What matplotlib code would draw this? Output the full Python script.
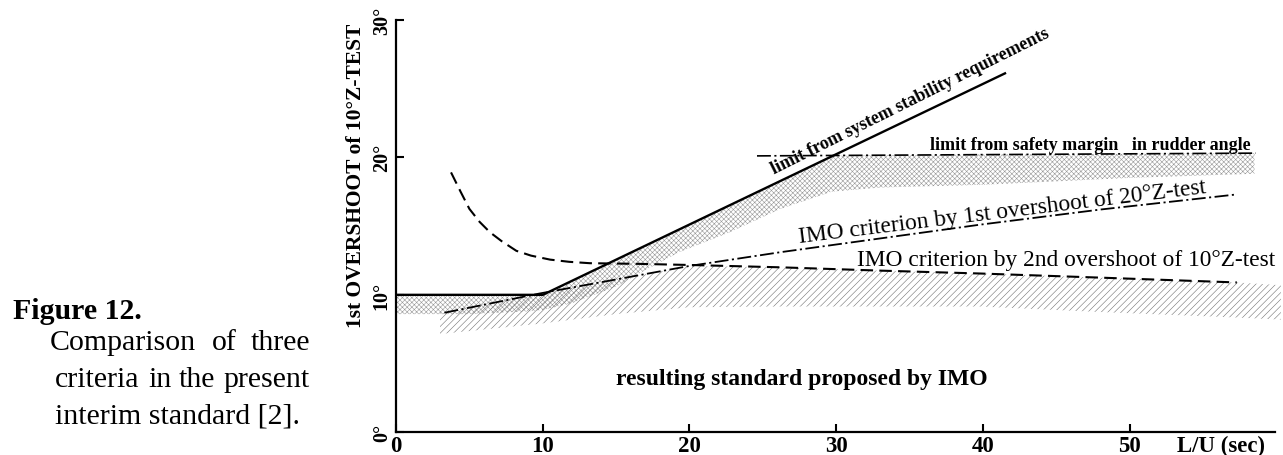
import matplotlib
matplotlib.use('Agg')
import matplotlib.pyplot as plt
import numpy as np

plt.rcParams['font.family'] = ['Liberation Serif', 'DejaVu Serif']
plt.rcParams['hatch.linewidth'] = 0.4
plt.rcParams['lines.scale_dashes'] = False

# ---------------- data ----------------
xticks = [0, 10, 20, 30, 40, 50]
yticks = [0, 10, 20, 30]
ytick_labels = ['0°', '10°', '20°', '30°']

# limit from system stability requirements (solid)
stab_x = [0, 10, 41.5]
stab_y = [10, 10, 26.1]

# limit from safety margin in rudder angle (dash-dot)
safety_x = [24.6, 58.6]
safety_y = [20.1, 20.3]

# IMO criterion by 1st overshoot of 20deg Z-test (dash-dot)
imo1_x = [3.3, 9.8, 20.0, 26.2, 33.0, 39.8, 48.0, 57.3]
imo1_y = [8.7, 10.1, 12.1, 13.1, 14.1, 15.1, 16.2, 17.3]

# IMO criterion by 2nd overshoot of 10deg Z-test (dashed)
imo2_x = [3.75, 4.4, 5.0, 5.7, 6.4, 7.2, 8.2, 9.2, 10.5, 11.8, 13.2, 16.6, 20.0, 26.2, 33.0, 39.8, 48.0, 57.3]
imo2_y = [18.9, 17.5, 16.25, 15.3, 14.55, 13.9, 13.2, 12.85, 12.56, 12.4, 12.3, 12.25, 12.17, 12.0, 11.76, 11.55, 11.25, 10.9]

# stippled band (upper region)
stip_x = [0, 5, 9, 10, 12, 15, 17, 19.3, 22.75, 26.2, 29.7, 33, 40, 50, 58.5]
stip_top = [10, 10, 10, 10, 11.03, 12.56, 13.6, 14.8, 16.55, 18.3, 20.1, 20.15, 20.2, 20.25, 20.3]
stip_bot = [8.6, 8.6, 8.8, 8.9, 9.4, 10.6, 11.8, 13.1, 14.55, 16.25, 17.5, 17.8, 18.0, 18.5, 18.8]

# diagonal-hatched band (resulting standard)
hatch_x = [3.0, 9.8, 15.0, 20.0, 26.2, 33.0, 39.8, 48.0, 57.3, 60.3]
hatch_top = [8.7, 10.1, 11.1, 12.1, 12.0, 11.76, 11.55, 11.25, 10.9, 10.7]
hatch_bot = [7.15, 7.9, 8.6, 9.1, 9.15, 9.15, 9.15, 8.75, 8.35, 8.2]

# ---------------- figure ----------------
W, H = 1283, 456
fig = plt.figure(figsize=(W / 100, H / 100), dpi=100)
ax = fig.add_axes([396 / W, 1 - 433.4 / H, (1275 - 396) / W, (433.4 - 20.7) / H])
ax.set_xlim(0, 59.9)
ax.set_ylim(0, 30)

for s in ['top', 'right']:
    ax.spines[s].set_visible(False)
for s in ['left', 'bottom']:
    ax.spines[s].set_linewidth(1.6)
    ax.spines[s].set_color('black')

ax.set_xticks(xticks)
ax.set_xticklabels([str(v) for v in xticks], fontsize=16.5, fontweight='bold')
ax.set_yticks(yticks)
ax.set_yticklabels(ytick_labels, fontsize=14.5, fontweight='bold', rotation=90, va='center')
ax.tick_params(axis='both', direction='in', length=6, width=1.5, color='black')
ax.tick_params(axis='x', pad=2)
ax.tick_params(axis='y', pad=3)

# shaded regions
ax.fill(np.concatenate([stip_x, stip_x[::-1]]), np.concatenate([stip_top, stip_bot[::-1]]),
        facecolor='none', edgecolor='0.6', hatch='xxxxxxx', linewidth=0, zorder=1)
ax.fill(np.concatenate([hatch_x, hatch_x[::-1]]), np.concatenate([hatch_top, hatch_bot[::-1]]),
        facecolor='none', edgecolor='0.45', hatch='/////', linewidth=0, zorder=1, clip_on=False)

# lines
ax.plot(stab_x, stab_y, color='black', lw=1.7, zorder=3)
ax.plot(safety_x, safety_y, color='black', lw=1.2, dashes=(10, 2.5, 1.5, 2.5), zorder=3)
ax.plot(imo1_x, imo1_y, color='black', lw=1.3, dashes=(10, 2.5, 1.5, 2.5), zorder=3)
ax.plot(imo2_x, imo2_y, color='black', lw=1.5, dashes=(9, 4.5), zorder=3)

# annotations
ax.text(25.8, 18.8, 'limit from system stability requirements', fontsize=13, fontweight='bold',
        rotation=26.5, rotation_mode='anchor', ha='left', va='baseline', zorder=4)
ax.text(36.4, 20.6, 'limit from safety margin   in rudder angle', fontsize=13, fontweight='bold',
        ha='left', va='baseline', zorder=4)
ax.text(27.5, 13.85, 'IMO criterion by 1st overshoot of 20°Z-test', fontsize=16.8,
        rotation=7, rotation_mode='anchor', ha='left', va='baseline', zorder=4)
ax.text(31.4, 12.2, 'IMO criterion by 2nd overshoot of 10°Z-test', fontsize=16.8,
        ha='left', va='baseline', zorder=4)
ax.text(15.0, 3.52, 'resulting standard proposed by IMO', fontsize=17, fontweight='bold',
        ha='left', va='baseline', zorder=4)

# axis labels
fig.text(1177 / W, 1 - 436 / H, 'L/U (sec)', fontsize=16.5, fontweight='bold', ha='left', va='top')
fig.text(356 / W, 1 - 176 / H, '1st OVERSHOOT of 10°Z-TEST', fontsize=15.5, fontweight='bold',
         rotation=90, ha='center', va='center')

# caption
fig.text(13 / W, 1 - 319 / H, 'Figure 12.', fontsize=21.5, fontweight='bold', ha='left', va='baseline')
fig.text(50 / W, 1 - 350 / H, 'Comparison', fontsize=21.5, ha='left', va='baseline')
fig.text(224 / W, 1 - 350 / H, 'of', fontsize=21.5, ha='center', va='baseline')
fig.text(310 / W, 1 - 350 / H, 'three', fontsize=21.5, ha='right', va='baseline')
fig.text(55 / W, 1 - 387 / H, 'criteria', fontsize=21.5, ha='left', va='baseline')
fig.text(160 / W, 1 - 387 / H, 'in', fontsize=21.5, ha='center', va='baseline')
fig.text(197 / W, 1 - 387 / H, 'the', fontsize=21.5, ha='center', va='baseline')
fig.text(310 / W, 1 - 387 / H, 'present', fontsize=21.5, ha='right', va='baseline')
fig.text(55 / W, 1 - 424 / H, 'interim standard [2].', fontsize=21.5, ha='left', va='baseline')

fig.savefig('out.png', dpi=100)
